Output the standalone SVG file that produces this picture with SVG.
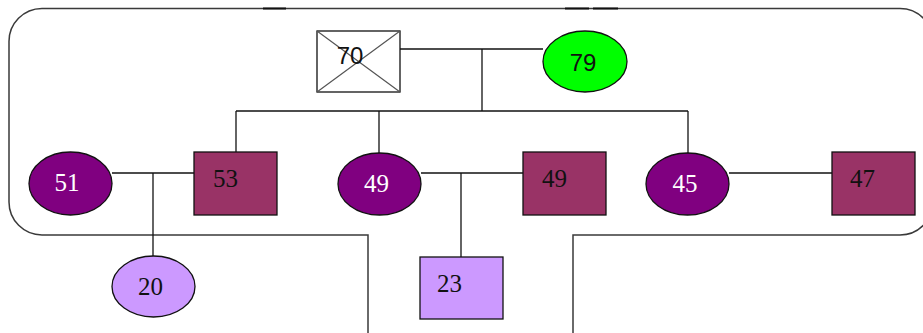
<svg xmlns="http://www.w3.org/2000/svg" width="923" height="333" viewBox="0 0 923 333">
  <style>
    .edge { fill: none; stroke: #111; stroke-width: 1.3; }
    .frame { fill: none; stroke: #3a3a3a; stroke-width: 1.5; }
    .box { stroke: #111; stroke-width: 1.3; }
    .female { fill: #800080; }
    .male { fill: #993366; }
    .child { fill: #cc99ff; }
    .sans { font-family: "Liberation Sans", Arial, sans-serif; font-size: 24px; fill: #111; }
    .serif { font-family: "Liberation Serif", "Times New Roman", serif; font-size: 25px; }
    .light { fill: #ffffff; }
    .dark { fill: #111111; }
    .mid { text-anchor: middle; }
  </style>

  <!-- surrounding household outline with stem running off the bottom -->
  <g id="frame">
    <path class="frame" d="M368,333 V235 H42 A33,33 0 0 1 9,202 V42 A33,33 0 0 1 42,8.5 H900 A33,33 0 0 1 933,41.5 V202 A33,33 0 0 1 900,235 H573 V333"/>
    <path d="M263,8.5 H286 M565,8.5 H589 M593,8.5 H618" stroke="#111" stroke-width="2"/>
  </g>

  <!-- connectors -->
  <g id="connectors">
    <path class="edge" d="M400,49 H543"/>
    <path class="edge" d="M482,49 V111"/>
    <path class="edge" d="M236,111 H688"/>
    <path class="edge" d="M236,111 V152"/>
    <path class="edge" d="M379,111 V153"/>
    <path class="edge" d="M688,111 V153"/>
    <path class="edge" d="M112,173 H194"/>
    <path class="edge" d="M153,173 V256"/>
    <path class="edge" d="M421,173 H523"/>
    <path class="edge" d="M461,173 V257"/>
    <path class="edge" d="M729,173 H832"/>
  </g>

  <g id="n70">
    <rect class="box" x="317" y="31" width="83" height="61" fill="#ffffff"/>
    <path d="M317,31 L400,92 M400,31 L317,92" stroke="#555" stroke-width="1.2"/>
    <text class="sans mid" x="350" y="64">70</text>
  </g>

  <g id="n79">
    <ellipse class="box" cx="585" cy="61.5" rx="42" ry="30.5" fill="#00ff00"/>
    <text class="sans mid" x="583" y="71">79</text>
  </g>

  <g id="n51">
    <ellipse class="box female" cx="70.5" cy="183.5" rx="41.5" ry="31.5"/>
    <text class="serif light mid" x="67" y="191">51</text>
  </g>

  <g id="n53">
    <rect class="box male" x="194" y="152" width="83" height="63"/>
    <text class="serif dark" x="213" y="187">53</text>
  </g>

  <g id="n49a">
    <ellipse class="box female" cx="379.5" cy="184" rx="41.5" ry="31"/>
    <text class="serif light mid" x="376.5" y="192">49</text>
  </g>

  <g id="n49b">
    <rect class="box male" x="523" y="152" width="83" height="63"/>
    <text class="serif dark" x="542" y="187">49</text>
  </g>

  <g id="n45">
    <ellipse class="box female" cx="687.5" cy="184" rx="41.5" ry="31"/>
    <text class="serif light mid" x="685" y="192">45</text>
  </g>

  <g id="n47">
    <rect class="box male" x="832" y="152" width="83" height="63"/>
    <text class="serif dark" x="850" y="187">47</text>
  </g>

  <g id="n20">
    <ellipse class="box child" cx="153.5" cy="286.5" rx="41.5" ry="30.5"/>
    <text class="serif dark mid" x="150.5" y="295">20</text>
  </g>

  <g id="n23">
    <rect class="box child" x="420" y="257" width="83" height="62"/>
    <text class="serif dark" x="437" y="292">23</text>
  </g>
</svg>
